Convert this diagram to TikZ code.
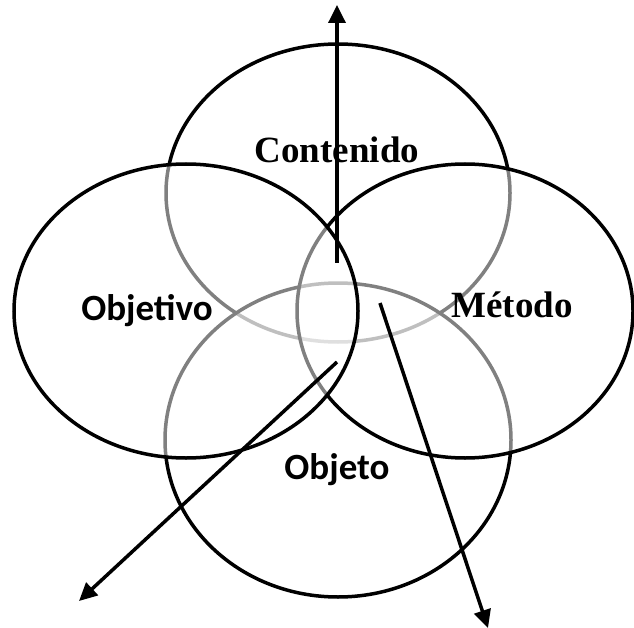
\documentclass[tikz,border=0pt]{standalone}
\usepackage{fontspec}
\setmainfont{Liberation Serif}
\newfontfamily\calib{Carlito}
\usetikzlibrary{arrows.meta,shapes.geometric}

\begin{document}
\begin{tikzpicture}[x=1pt,y=-1pt,line width=3.5pt,>={Triangle[length=18pt,width=17pt]}]
    \tikzstyle{zone}=[draw=black, ellipse, inner sep=0pt, fill=white, fill opacity=0.5]
    \tikzstyle{serlab}=[anchor=base, font=\fontsize{37}{40}\selectfont\bfseries]
    \tikzstyle{sanlab}=[anchor=base, font=\calib\fontsize{37}{40}\selectfont\bfseries]

    \useasboundingbox (0,0) rectangle (634,628);

    % the four fields, each one half covering the ones before it
    \node[zone, minimum width=344pt, minimum height=298pt] (cont) at (338,193) {};
    \node[zone, minimum width=346pt, minimum height=314pt] (objt) at (338,440) {};
    \node[zone, minimum width=336pt, minimum height=294pt] (meto) at (465,311) {};
    \node[zone, minimum width=344pt, minimum height=294pt] (objv) at (186,311) {};

    \node[serlab] (lcont) at (337,163) {Contenido};
    \node[sanlab] (lobjv) at (147,320) {Objetivo};
    \node[serlab] (lmeto) at (512,317) {Método};
    \node[sanlab] (lobjt) at (337,479) {Objeto};

    \coordinate (up0) at (337,263);
    \coordinate (up1) at (337,5);
    \coordinate (sw0) at (337,362);
    \coordinate (sw1) at (79,601);
    \coordinate (se0) at (380,303);
    \coordinate (se1) at (488,628);

    \draw[->] (up0) -- (up1);
    \draw[->] (sw0) -- (sw1);
    \draw[->] (se0) -- (se1);
\end{tikzpicture}
\end{document}
